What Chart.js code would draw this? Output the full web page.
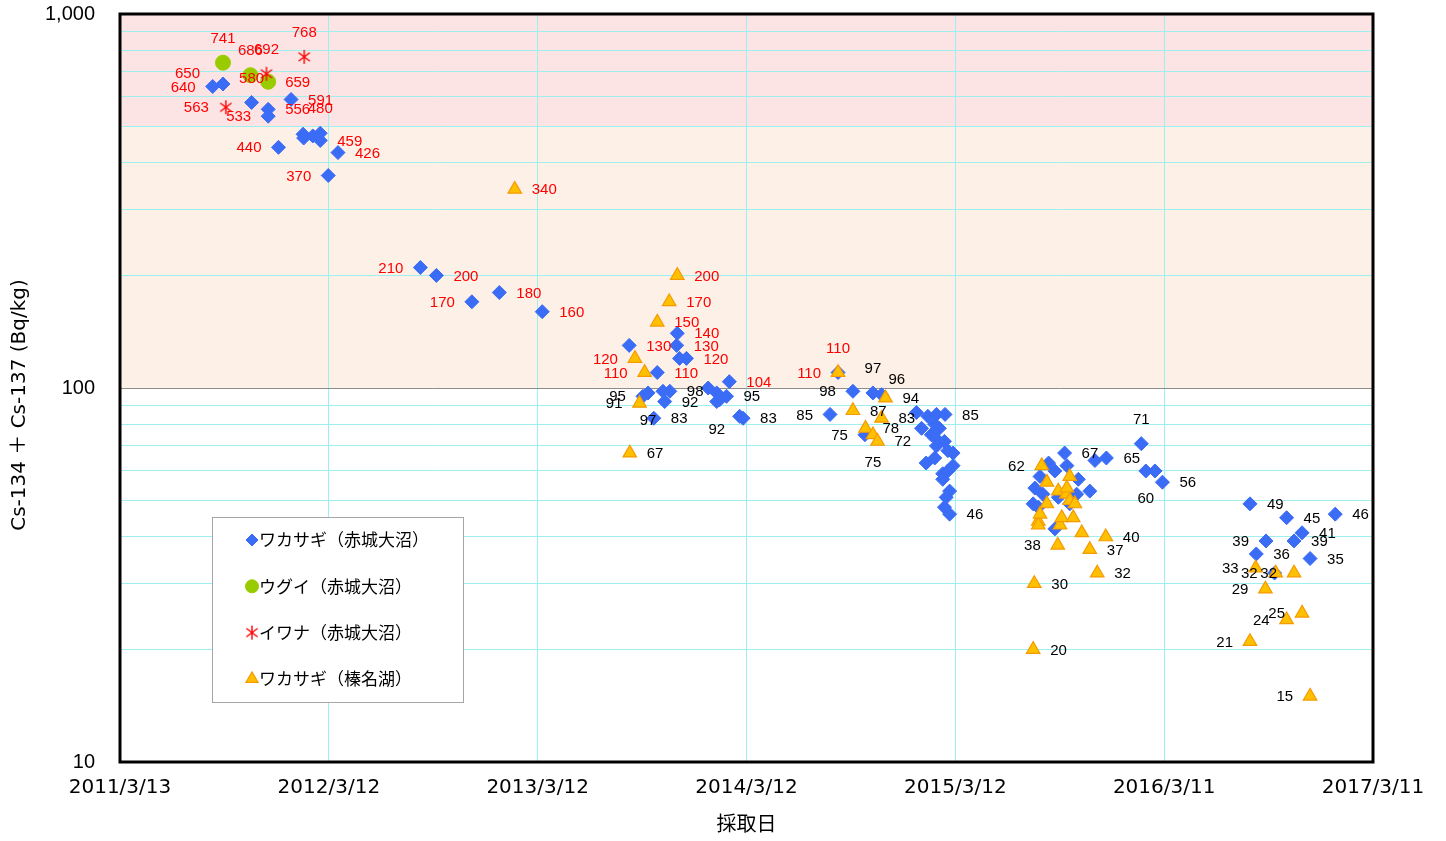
<!DOCTYPE html>
<html lang="ja">
<head>
<meta charset="utf-8">
<title>Cs-134 + Cs-137</title>
<script src="https://cdn.jsdelivr.net/npm/chart.js@4.4.1/dist/chart.umd.min.js"></script>
<style>
  html, body { margin: 0; padding: 0; background: #fff; }
  canvas { display: block; }
</style>
</head>
<body>
<canvas id="chart" width="1446" height="841"></canvas>
<script>
// x axis: dates every 365 days, y axis: log 10 - 1000
const xTickLabels = ["2011/3/13", "2012/3/12", "2013/3/12", "2014/3/12", "2015/3/12", "2016/3/11", "2017/3/11"];
const yTickValues = [10, 100, 1000];
const yTickLabels = ["10", "100", "1,000"];
const yTitle = "Cs-134 ＋ Cs-137 (Bq/kg)";

// ワカサギ（赤城大沼）
const akagiWakasagiDates = [
  "2011/8/22", "2011/9/9", "2011/10/29", "2011/11/27", "2011/11/27", "2011/12/15", "2012/1/6", "2012/1/27", "2012/1/28", "2012/2/13", "2012/2/26", "2012/2/26", "2012/3/11", "2012/3/28",
  "2012/8/19", "2012/9/16", "2012/11/17", "2013/1/4", "2013/3/20",
  "2013/8/19", "2013/9/12", "2013/9/21", "2013/10/1", "2013/10/7", "2013/10/17", "2013/10/20", "2013/10/29", "2013/11/10", "2013/11/11", "2013/11/15", "2013/11/27", "2014/1/4", "2014/1/19", "2014/1/24", "2014/1/19", "2014/2/5", "2014/2/10", "2014/2/28", "2014/3/6",
  "2014/8/5", "2014/8/19", "2014/9/14", "2014/10/5", "2014/10/19", "2014/11/3",
  "2015/1/3", "2015/1/12", "2015/1/20", "2015/1/23", "2015/1/29", "2015/2/4", "2015/2/4", "2015/2/7", "2015/2/7", "2015/2/7", "2015/2/12", "2015/2/18", "2015/2/18", "2015/2/21", "2015/2/21", "2015/2/22", "2015/2/24", "2015/2/27", "2015/2/27", "2015/3/2", "2015/3/2", "2015/3/8", "2015/3/8",
  "2015/7/26", "2015/7/29", "2015/8/4", "2015/8/7", "2015/8/12", "2015/8/22", "2015/9/2", "2015/9/2", "2015/9/8", "2015/9/19", "2015/9/23", "2015/9/28", "2015/10/10", "2015/10/13", "2015/11/2", "2015/11/11", "2015/12/1",
  "2016/1/31", "2016/2/8", "2016/2/24", "2016/3/8",
  "2016/8/8", "2016/8/19", "2016/9/5", "2016/9/20", "2016/10/11", "2016/10/24", "2016/11/7", "2016/11/21", "2017/1/4"
];
const akagiWakasagiValues = [
  640, 650, 580, 556, 533, 440, 591, 477, 466, 472, 480, 459, 370, 426,
  210, 200, 170, 180, 160,
  130, 95, 97, 83, 110, 98, 92, 98, 130, 140, 120, 120, 100, 97, 93, 92, 95, 104, 84, 83,
  85, 110, 98, 75, 97, 96,
  86, 78, 63, 84, 75, 80, 65, 85, 73, 70, 78, 59, 57, 72, 48, 85, 51, 68, 60, 53, 46, 67, 62,
  49, 54, 48, 58, 52, 63, 60, 42, 51, 67, 62, 49, 52, 57, 53, 64, 65,
  71, 60, 60, 56,
  49, 36, 39, 32, 45, 39, 41, 35, 46
];
const akagiWakasagiLabelPos = [
  "l", "tl", "t", "r", "l", "l", "r", null, null, null, "t", "r", "l", "r",
  "l", "r", "l", "r", "r",
  "r", "l", "b", "r", "r", null, "r", "r", "r", "r", null, "r", null, null, null, "b", "r", "r", null, "r",
  "l", "t", "l", "l", "t", "tr",
  null, null, null, null, null, null, null, null, null, null, null, null, null, null, null, "r", null, null, null, null, "r", null, null,
  null, null, null, null, null, null, null, null, null, "r", null, null, null, null, null, null, "r",
  "t", "b", null, "r",
  "r", "r", "l", "l", "r", "r", "r", "r", "r"
];

// ウグイ（赤城大沼）
const akagiUguiDates = ["2011/9/9", "2011/10/27", "2011/11/27"];
const akagiUguiValues = [741, 686, 659];
const akagiUguiLabelPos = ["t", "t", "r"];

// イワナ（赤城大沼）
const akagiIwanaDates = ["2011/9/14", "2011/11/24", "2012/1/29"];
const akagiIwanaValues = [563, 692, 768];
const akagiIwanaLabelPos = ["l", "t", "t"];

// ワカサギ（榛名湖）
const harunaWakasagiDates = [
  "2013/1/31",
  "2013/8/20", "2013/8/29", "2013/9/6", "2013/9/15", "2013/10/7", "2013/10/28", "2013/11/11",
  "2014/8/19", "2014/9/14", "2014/10/6", "2014/10/19", "2014/10/27", "2014/11/3", "2014/11/10",
  "2015/7/26", "2015/7/28", "2015/8/4", "2015/8/4", "2015/8/7", "2015/8/10", "2015/8/19", "2015/8/19", "2015/9/7", "2015/9/8", "2015/9/11", "2015/9/14", "2015/9/22", "2015/9/23", "2015/9/28", "2015/9/28", "2015/10/4", "2015/10/7", "2015/10/19", "2015/11/2", "2015/11/15", "2015/11/30",
  "2016/8/8", "2016/8/18", "2016/9/4", "2016/9/22", "2016/10/11", "2016/10/24", "2016/11/7", "2016/11/21"
];
const harunaWakasagiValues = [
  340,
  67, 120, 91, 110, 150, 170, 200,
  110, 87, 78, 75, 72, 83, 94,
  20, 30, 44, 43, 46, 62, 56, 49, 38, 53, 43, 45, 52, 54, 58, 50, 45, 49, 41, 37, 32, 40,
  21, 33, 29, 32, 24, 32, 25, 15
];
const harunaWakasagiLabelPos = [
  "r",
  "r", "l", "l", "l", "r", "r", "r",
  "l", "r", "r", "b", "r", "r", "r",
  "r", "r", null, null, null, "l", null, null, "l", null, null, null, null, null, null, null, null, null, null, "r", "r", "r",
  "l", "l", "l", null, "l", "l", "l", "l"
];

// background bands (Bq/kg)
const bandLimits = [100, 500, 1000];

const DAY = 86400000;
const [by, bm, bd] = xTickLabels[0].split("/").map(Number);
const baseTime = Date.UTC(by, bm - 1, bd);

function toDay(s) {
  const [y, m, d] = s.split("/").map(Number);
  return (Date.UTC(y, m - 1, d) - baseTime) / DAY;
}

function toPoints(dates, values) {
  return dates.map((d, i) => ({ x: toDay(d), y: values[i] }));
}

// 6-armed asterisk marker like the spreadsheet one
function makeAsterisk(size, color) {
  const c = document.createElement("canvas");
  c.width = size;
  c.height = size;
  const g = c.getContext("2d");
  const m = size / 2;
  const r = size / 2 - 1;
  g.strokeStyle = color;
  g.lineWidth = 1.4;
  g.beginPath();
  g.moveTo(m, m - r);
  g.lineTo(m, m + r);
  g.moveTo(m - r * 0.8, m - r * 0.6);
  g.lineTo(m + r * 0.8, m + r * 0.6);
  g.moveTo(m - r * 0.8, m + r * 0.6);
  g.lineTo(m + r * 0.8, m - r * 0.6);
  g.stroke();
  return c;
}

const asterisk = makeAsterisk(16, "#ff0000");
const labelPositions = [akagiWakasagiLabelPos, akagiUguiLabelPos, akagiIwanaLabelPos, harunaWakasagiLabelPos];

const bandsPlugin = {
  id: "bands",
  beforeDraw(chart) {
    const { ctx, chartArea, scales } = chart;
    ctx.save();
    ctx.fillStyle = "#fff";
    ctx.fillRect(0, 0, chart.width, chart.height);
    const yLow = scales.y.getPixelForValue(bandLimits[0]);
    const yMid = scales.y.getPixelForValue(bandLimits[1]);
    const yTop = scales.y.getPixelForValue(bandLimits[2]);
    ctx.fillStyle = "#fdf0e6";
    ctx.fillRect(chartArea.left, yMid, chartArea.width, yLow - yMid);
    ctx.fillStyle = "#fde4e4";
    ctx.fillRect(chartArea.left, yTop, chartArea.width, yMid - yTop);
    ctx.restore();
  },
  beforeDatasetsDraw(chart) {
    const { ctx, chartArea } = chart;
    ctx.save();
    ctx.strokeStyle = "#000";
    ctx.lineWidth = 3;
    ctx.strokeRect(chartArea.left, chartArea.top, chartArea.width, chartArea.height);
    ctx.restore();
  },
  afterDraw(chart) {
    // y axis title, sits a bit below the plot centre like the original
    const { ctx, chartArea } = chart;
    ctx.save();
    ctx.translate(20, (chartArea.top + chartArea.bottom) / 2 + 17);
    ctx.rotate(-Math.PI / 2);
    ctx.font = '20px "DejaVu Sans", "Noto Sans CJK JP", sans-serif';
    ctx.fillStyle = "#000";
    ctx.textAlign = "center";
    ctx.textBaseline = "middle";
    ctx.fillText(yTitle, 0, 0);
    ctx.restore();
  }
};

const valueLabels = {
  id: "valueLabels",
  afterDatasetsDraw(chart) {
    const ctx = chart.ctx;
    ctx.save();
    ctx.font = '15px "Liberation Sans", Arial, sans-serif';
    ctx.textBaseline = "middle";
    chart.data.datasets.forEach((ds, i) => {
      const meta = chart.getDatasetMeta(i);
      const posList = labelPositions[i];
      meta.data.forEach((pt, j) => {
        const pos = posList[j];
        if (!pos) return;
        const v = ds.data[j].y;
        let x = pt.x, y = pt.y, align = "center";
        if (pos === "r") { x += 17; align = "left"; }
        else if (pos === "l") { x -= 17; align = "right"; }
        else if (pos === "t") { y -= 25; }
        else if (pos === "b") { y += 27; }
        else if (pos === "tl") { x -= 23; y -= 11; align = "right"; }
        else if (pos === "tr") { x += 7; y -= 16; align = "left"; }
        ctx.textAlign = align;
        ctx.fillStyle = v >= 100 ? "#ff0000" : "#000000";
        ctx.fillText(String(v), x, y + 1);
      });
    });
    ctx.restore();
  }
};

// legend box inside plot area
const boxLegend = {
  id: "boxLegend",
  afterDraw(chart) {
    const { ctx, chartArea } = chart;
    const x0 = chartArea.left + 92;
    const y0 = chartArea.top + 503;
    ctx.save();
    ctx.fillStyle = "#fff";
    ctx.fillRect(x0, y0, 251, 185);
    ctx.strokeStyle = "#a6a6a6";
    ctx.lineWidth = 1;
    ctx.strokeRect(x0 + 0.5, y0 + 0.5, 251, 185);
    chart.data.datasets.forEach((ds, i) => {
      const y = y0 + 23 + i * 46.3;
      const mx = x0 + 40;
      ctx.fillStyle = ds.pointBackgroundColor;
      ctx.strokeStyle = ds.pointBorderColor;
      ctx.lineWidth = ds.pointBorderWidth;
      Chart.helpers.drawPoint(ctx, {
        pointStyle: ds.pointStyle,
        rotation: 0,
        radius: ds.legendRadius,
        borderWidth: ds.pointBorderWidth
      }, mx, y);
      ctx.fillStyle = "#000";
      ctx.font = '17px "Noto Sans CJK JP", sans-serif';
      ctx.textAlign = "left";
      ctx.textBaseline = "middle";
      ctx.fillText(ds.label, mx + 7, y);
    });
    ctx.restore();
  }
};

Chart.defaults.font.family = '"Liberation Sans", "Noto Sans CJK JP", Arial, sans-serif';
Chart.defaults.color = "#000";

const gridColor = "#9eefef";

new Chart(document.getElementById("chart"), {
  type: "scatter",
  data: {
    datasets: [
      {
        label: "ワカサギ（赤城大沼）",
        data: toPoints(akagiWakasagiDates, akagiWakasagiValues),
        pointStyle: "rectRot",
        pointRadius: 7,
        legendRadius: 6,
        pointBackgroundColor: "#3b6cf6",
        pointBorderColor: "#3b6cf6",
        pointBorderWidth: 1,
        order: 3
      },
      {
        label: "ウグイ（赤城大沼）",
        data: toPoints(akagiUguiDates, akagiUguiValues),
        pointStyle: "circle",
        pointRadius: 7.5,
        legendRadius: 6.5,
        pointBackgroundColor: "#99cc00",
        pointBorderColor: "#99cc00",
        pointBorderWidth: 1,
        order: 2
      },
      {
        label: "イワナ（赤城大沼）",
        data: toPoints(akagiIwanaDates, akagiIwanaValues),
        pointStyle: asterisk,
        pointRadius: 7,
        legendRadius: 7,
        pointBackgroundColor: "#ff0000",
        pointBorderColor: "#ff0000",
        pointBorderWidth: 1,
        order: 1
      },
      {
        label: "ワカサギ（榛名湖）",
        data: toPoints(harunaWakasagiDates, harunaWakasagiValues),
        pointStyle: "triangle",
        pointRadius: 7.8,
        legendRadius: 7,
        pointBackgroundColor: "#ffc000",
        pointBorderColor: "#f59a00",
        pointBorderWidth: 1.2,
        order: 0
      }
    ]
  },
  options: {
    responsive: false,
    animation: false,
    events: [],
    layout: { padding: { top: 14, right: 73, left: 0, bottom: 0 } },
    plugins: {
      legend: { display: false },
      tooltip: { enabled: false }
    },
    scales: {
      x: {
        type: "linear",
        min: toDay(xTickLabels[0]),
        max: toDay(xTickLabels[xTickLabels.length - 1]),
        afterBuildTicks: (s) => { s.ticks = xTickLabels.map(t => ({ value: toDay(t) })); },
        afterFit: (s) => { s.height = 79; s.paddingLeft = 0; s.paddingRight = 0; },
        ticks: {
          callback: (v, i) => xTickLabels[i],
          autoSkip: false,
          maxRotation: 0,
          padding: 14,
          font: { size: 20, family: '"DejaVu Sans", sans-serif' }
        },
        grid: { color: gridColor, drawTicks: false },
        border: { display: false },
        title: {
          display: true,
          text: "採取日",
          padding: { top: 0, bottom: 6 },
          font: { size: 20, family: '"Noto Sans CJK JP", sans-serif' }
        }
      },
      y: {
        type: "logarithmic",
        min: yTickValues[0],
        max: yTickValues[yTickValues.length - 1],
        afterBuildTicks: (s) => {
          const vals = [];
          for (let i = 0; i < yTickValues.length - 1; i++) {
            for (let k = 1; k <= 9; k++) vals.push(yTickValues[i] * k);
          }
          vals.push(yTickValues[yTickValues.length - 1]);
          s.ticks = vals.map(v => ({ value: v }));
        },
        afterFit: (s) => { s.width = 120; s.paddingTop = 0; s.paddingBottom = 0; },
        ticks: {
          callback: (v) => {
            const idx = yTickValues.indexOf(v);
            return idx >= 0 ? yTickLabels[idx] : "";
          },
          autoSkip: false,
          padding: 25,
          font: { size: 20 }
        },
        grid: {
          color: (c) => (c.tick && c.tick.value === 100 ? "#8c8c8c" : gridColor),
          drawTicks: false
        },
        border: { display: false },
        title: { display: false }
      }
    }
  },
  plugins: [bandsPlugin, valueLabels, boxLegend]
});
</script>
</body>
</html>
